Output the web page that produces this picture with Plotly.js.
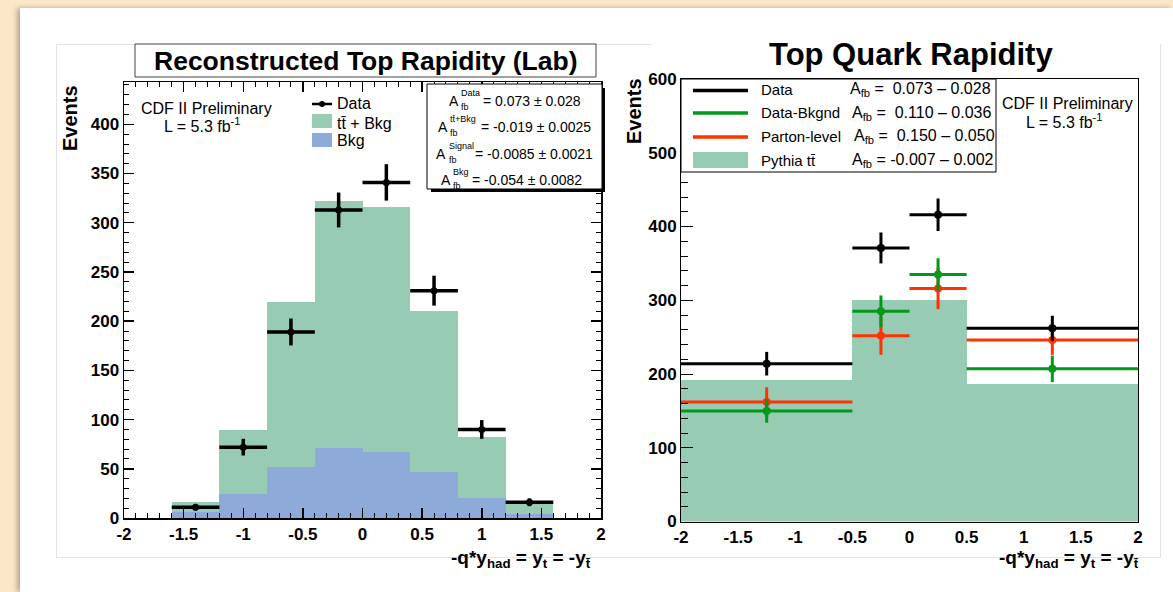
<!DOCTYPE html>
<html>
<head>
<meta charset="utf-8">
<script src="https://cdn.plot.ly/plotly-3.0.1.min.js"></script>
<style>
html,body{margin:0;padding:0;width:1173px;height:592px;overflow:hidden;background:#fde7c9;}
#sheet{position:absolute;left:20px;top:8px;width:1153px;height:584px;background:#fff;box-shadow:-3px 0 5px rgba(0,0,0,0.28);}
.ln{position:absolute;background:#e3e3e3;}
#chart{position:absolute;left:0;top:0;width:1173px;height:592px;}
</style>
</head>
<body>
<div id="sheet"></div>
<div class="ln" style="left:56px;top:44px;width:596px;height:1px;"></div>
<div class="ln" style="left:56px;top:44px;width:1px;height:513px;"></div>
<div class="ln" style="left:56px;top:557px;width:1104px;height:1px;"></div>
<div class="ln" style="left:1160px;top:44px;width:1px;height:514px;"></div>
<div id="chart"></div>
<script>
// ---------- data: left panel (Reconstructed Top Rapidity, Lab) ----------
const leftEdges   = [-2, -1.6, -1.2, -0.8, -0.4, 0, 0.4, 0.8, 1.2, 1.6, 2];
const ttbarBkg    = [0, 16, 89, 219, 322, 316, 210, 82, 17, 0];
const bkgOnly     = [0, 6, 24, 52, 71, 67, 47, 20, 4, 0];
const dataLeft    = [null, 11, 72, 189, 313, 341, 231, 90, 16, null];
const dataLeftErr = [null, 3.3, 8.5, 13.7, 17.7, 18.5, 15.2, 9.5, 4, null];

// ---------- data: right panel (Top Quark Rapidity) ----------
const rightEdges  = [-2, -0.5, 0, 0.5, 2];
const pythiaTT    = [192, 301, 300, 187];
const dataRight   = [214, 371, 416, 262];
const dataRightErr= [16, 21, 22, 17];
const dataBkgnd   = [150, 285, 335, 207];
const dataBkgndErr= [16, 21.5, 22, 18];
const partonLevel = [162, 252, 316, 246];
const partonErr   = [20, 26, 28, 20];

// ---------- tick labels ----------
const xTickVals = [-2, -1.5, -1, -0.5, 0, 0.5, 1, 1.5, 2];
const xTickText = ['-2', '-1.5', '-1', '-0.5', '0', '0.5', '1', '1.5', '2'];

const FONT = 'Liberation Sans, Arial, Helvetica, sans-serif';
const W = 1173, H = 592;
const X = v => v / W;
const Y = v => 1 - v / H;

const centers = e => e.slice(0, -1).map((v, i) => (v + e[i + 1]) / 2);
const widths  = e => e.slice(0, -1).map((v, i) => e[i + 1] - v);
const halves  = e => widths(e).map(w => w / 2);

const GREEN_FILL = '#97cbb3';
const BLUE_FILL  = '#8eaad9';
const GREEN_LINE = '#00991a';
const RED_LINE   = '#ff3300';

const lc = centers(leftEdges), lw = widths(leftEdges), lh = halves(leftEdges);
const rc = centers(rightEdges), rw = widths(rightEdges), rh = halves(rightEdges);

function pts(x, y, err, hw, color, size, xa, ya, thick) {
  return {
    type: 'scatter', mode: 'markers', x: x, y: y, xaxis: xa, yaxis: ya,
    marker: {color: color, size: size},
    error_y: {type: 'data', array: err, color: color, thickness: thick, width: 0},
    error_x: {type: 'data', array: hw, color: color, thickness: thick, width: 0},
    cliponaxis: false
  };
}

const traces = [
  {type: 'bar', x: lc, y: ttbarBkg, width: lw, marker: {color: GREEN_FILL, line: {width: 0}}, xaxis: 'x', yaxis: 'y'},
  {type: 'bar', x: lc, y: bkgOnly, width: lw, marker: {color: BLUE_FILL, line: {width: 0}}, xaxis: 'x', yaxis: 'y'},
  pts(lc, dataLeft, dataLeftErr, lh, 'black', 7, 'x', 'y', 3.5),
  {type: 'bar', x: rc, y: pythiaTT, width: rw, marker: {color: GREEN_FILL, line: {width: 0}}, xaxis: 'x2', yaxis: 'y2'},
  pts(rc, partonLevel, partonErr, rh, RED_LINE, 8, 'x2', 'y2', 3),
  pts(rc, dataBkgnd, dataBkgndErr, rh, GREEN_LINE, 8, 'x2', 'y2', 3),
  pts(rc, dataRight, dataRightErr, rh, 'black', 8, 'x2', 'y2', 3)
];

const tickFont = {family: FONT, size: 17, weight: 'bold', color: 'black'};

const layout = {
  width: W, height: H,
  margin: {l: 0, r: 0, t: 0, b: 0},
  paper_bgcolor: 'rgba(0,0,0,0)',
  plot_bgcolor: 'white',
  showlegend: false,
  hovermode: false,
  barmode: 'overlay',
  bargap: 0,
  xaxis: {
    domain: [X(124), X(601)], range: [-2, 2], anchor: 'y',
    showgrid: false, zeroline: false, showline: true, linecolor: 'black', linewidth: 1.5,
    mirror: 'ticks', ticks: 'inside', ticklen: 10, tickwidth: 1.5, tickcolor: 'black',
    tickmode: 'array', tickvals: xTickVals, ticktext: xTickText, tickfont: tickFont,
    minor: {tickmode: 'linear', tick0: -2, dtick: 0.1, ticks: 'inside', ticklen: 5, tickwidth: 1, tickcolor: 'black', showgrid: false}
  },
  yaxis: {
    domain: [Y(518), Y(82)], range: [0, 443], anchor: 'x',
    showgrid: false, zeroline: false, showline: true, linecolor: 'black', linewidth: 1.5,
    mirror: 'ticks', ticks: 'inside', ticklen: 10, tickwidth: 1.5, tickcolor: 'black',
    tick0: 0, dtick: 50, tickfont: tickFont,
    minor: {tickmode: 'linear', tick0: 0, dtick: 10, ticks: 'inside', ticklen: 5, tickwidth: 1, tickcolor: 'black', showgrid: false}
  },
  xaxis2: {
    domain: [X(681), X(1138)], range: [-2, 2], anchor: 'y2',
    showgrid: false, zeroline: false, showline: true, linecolor: 'black', linewidth: 1,
    mirror: true, ticks: '',
    tickmode: 'array', tickvals: xTickVals, ticktext: xTickText, tickfont: tickFont
  },
  yaxis2: {
    domain: [Y(521.5), Y(79)], range: [0, 600], anchor: 'x2',
    showgrid: false, zeroline: false, showline: true, linecolor: 'black', linewidth: 1,
    mirror: true, ticks: 'inside', ticklen: 12, tickwidth: 1, tickcolor: 'black',
    tick0: 0, dtick: 100, tickfont: tickFont,
    minor: {tickmode: 'linear', tick0: 0, dtick: 20, ticks: 'inside', ticklen: 7, tickwidth: 1, tickcolor: 'black', showgrid: false}
  },
  shapes: [
    // left title box
    {type: 'rect', xref: 'paper', yref: 'paper', x0: X(135), x1: X(596), y0: Y(77), y1: Y(44), fillcolor: 'white', line: {color: '#444', width: 1}, layer: 'above'},
    // stats box shadow + box
    {type: 'rect', xref: 'paper', yref: 'paper', x0: X(431), x1: X(605), y0: Y(192), y1: Y(88), fillcolor: 'black', line: {width: 0}, layer: 'above'},
    {type: 'rect', xref: 'paper', yref: 'paper', x0: X(427), x1: X(602), y0: Y(189), y1: Y(84), fillcolor: 'white', line: {color: 'black', width: 1}, layer: 'above'},
    // left legend symbols
    {type: 'line', xref: 'paper', yref: 'paper', x0: X(312), x1: X(332), y0: Y(104), y1: Y(104), line: {color: 'black', width: 2.5}, layer: 'above'},
    {type: 'circle', xref: 'paper', yref: 'paper', x0: X(319), x1: X(325), y0: Y(107), y1: Y(101), fillcolor: 'black', line: {width: 0}, layer: 'above'},
    {type: 'rect', xref: 'paper', yref: 'paper', x0: X(312), x1: X(332), y0: Y(128), y1: Y(114), fillcolor: GREEN_FILL, line: {width: 0}, layer: 'above'},
    {type: 'rect', xref: 'paper', yref: 'paper', x0: X(312), x1: X(332), y0: Y(147), y1: Y(133), fillcolor: BLUE_FILL, line: {width: 0}, layer: 'above'},
    // right legend box + symbols
    {type: 'rect', xref: 'paper', yref: 'paper', x0: X(681), x1: X(996), y0: Y(172), y1: Y(79), fillcolor: 'white', line: {color: 'black', width: 1}, layer: 'above'},
    {type: 'line', xref: 'paper', yref: 'paper', x0: X(693), x1: X(748), y0: Y(90.5), y1: Y(90.5), line: {color: 'black', width: 3.5}, layer: 'above'},
    {type: 'line', xref: 'paper', yref: 'paper', x0: X(693), x1: X(748), y0: Y(113), y1: Y(113), line: {color: GREEN_LINE, width: 3.5}, layer: 'above'},
    {type: 'line', xref: 'paper', yref: 'paper', x0: X(693), x1: X(748), y0: Y(137), y1: Y(137), line: {color: RED_LINE, width: 3.5}, layer: 'above'},
    {type: 'rect', xref: 'paper', yref: 'paper', x0: X(693), x1: X(748), y0: Y(168), y1: Y(152), fillcolor: GREEN_FILL, line: {width: 0}, layer: 'above'}
  ],
  annotations: []
};

function ann(text, x, y, opts) {
  return Object.assign({
    text: text, x: X(x), y: Y(y), xref: 'paper', yref: 'paper', showarrow: false,
    xanchor: 'center', yanchor: 'middle', borderpad: 0,
    font: {family: FONT, size: 14, color: 'black'}
  }, opts || {});
}
const bold = (s) => ({family: FONT, size: s, color: 'black', weight: 'bold'});
const reg = (s) => ({family: FONT, size: s, color: 'black'});

const A = layout.annotations;
A.push(ann('Reconstructed Top Rapidity (Lab)', 366, 61, {font: bold(26.5)}));
A.push(ann('Top Quark Rapidity', 911, 55, {font: bold(31)}));
A.push(ann('Events', 70, 118, {textangle: -90, font: bold(20)}));
A.push(ann('Events', 634, 111, {textangle: -90, font: bold(20)}));
const xTitle = '-q*y<sub>had</sub> = y<sub>t</sub> = -y<sub>t\u0304</sub>';
A.push(ann(xTitle, 592, 546, {xanchor: 'right', yanchor: 'top', font: bold(19)}));
A.push(ann(xTitle, 1140, 546, {xanchor: 'right', yanchor: 'top', font: bold(19)}));
// left labels
A.push(ann('CDF II Preliminary', 140, 108, {xanchor: 'left', font: reg(16)}));
A.push(ann('L = 5.3 fb<sup>-1</sup>', 163, 125, {xanchor: 'left', font: reg(16)}));
A.push(ann('Data', 336, 104, {xanchor: 'left', font: reg(16)}));
A.push(ann('tt\u0304 + Bkg', 336, 123, {xanchor: 'left', font: reg(16)}));
A.push(ann('Bkg', 336, 140, {xanchor: 'left', font: reg(16)}));
// stats box: A with stacked super/subscripts
function stat(sup, rest, xA, y, xSup, xRest) {
  A.push(ann('A', xA, y, {xanchor: 'left', font: reg(14)}));
  A.push(ann(sup, xSup, y - 8, {xanchor: 'left', font: reg(9)}));
  A.push(ann('fb', xSup, y + 6, {xanchor: 'left', font: reg(9)}));
  A.push(ann(rest, xRest, y, {xanchor: 'left', font: reg(14)}));
}
stat('Data', '= 0.073 \u00b1 0.028', 448, 101, 460, 482);
stat('tt\u0304+Bkg', '= -0.019 \u00b1 0.0025', 437, 127, 449, 480);
stat('Signal', '= -0.0085 \u00b1 0.0021', 435, 154, 448, 474);
stat('Bkg', '= -0.054 \u00b1 0.0082', 440, 180, 452, 471);
// right legend
A.push(ann('Data', 760, 89, {xanchor: 'left', font: reg(15)}));
A.push(ann('Data-Bkgnd', 760, 112, {xanchor: 'left', font: reg(15)}));
A.push(ann('Parton-level', 760, 136, {xanchor: 'left', font: reg(15)}));
A.push(ann('Pythia tt\u0304', 760, 160, {xanchor: 'left', font: reg(15)}));
A.push(ann('A<sub>fb</sub> =  0.073 \u2013 0.028', 849, 90, {xanchor: 'left', font: reg(16)}));
A.push(ann('A<sub>fb</sub> =  0.110 \u2013 0.036', 851, 113, {xanchor: 'left', font: reg(16)}));
A.push(ann('A<sub>fb</sub> =  0.150 \u2013 0.050', 853, 137, {xanchor: 'left', font: reg(16)}));
A.push(ann('A<sub>fb</sub> = -0.007 \u2013 0.002', 851, 161, {xanchor: 'left', font: reg(16)}));
A.push(ann('CDF II Preliminary', 1001, 104, {xanchor: 'left', font: reg(16)}));
A.push(ann('L = 5.3 fb<sup>-1</sup>', 1025, 121, {xanchor: 'left', font: reg(16)}));

Plotly.newPlot('chart', traces, layout, {staticPlot: true, displayModeBar: false});
</script>
</body>
</html>
